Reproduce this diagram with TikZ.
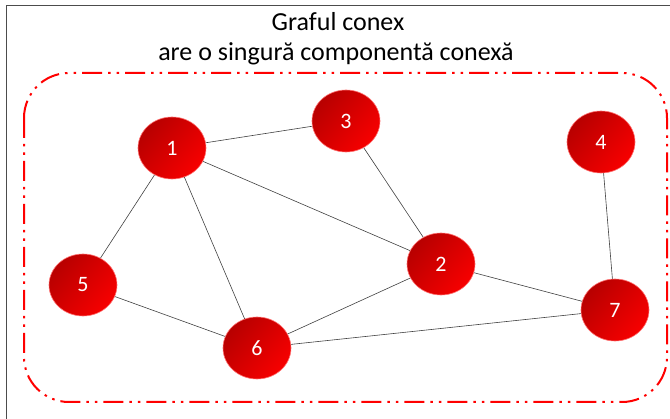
\documentclass[tikz,border=0pt]{standalone}
\usepackage{fontspec}
\setmainfont{Carlito}
\usetikzlibrary{shapes.geometric}
\begin{document}
\begin{tikzpicture}[x=1pt,y=-1pt,
  vert/.style={ellipse, minimum width=68pt, minimum height=62pt, inner sep=0pt,
    top color=red!72!black, bottom color=red!97!black, shading angle=50,
    draw=red!55!white, line width=0.6pt, text=white, font=\fontsize{22}{24}\selectfont},
  edge/.style={draw=black!75, line width=0.6pt},
  grp/.style={draw=red, line width=2pt, rounded corners=45pt,
    dash pattern=on 20pt off 6pt on 2.5pt off 6pt on 2.5pt off 6pt},
  ttl/.style={font=\fontsize{26}{28}\selectfont}
]
\useasboundingbox (0,0) rectangle (670,419);
\draw[black!70, line width=1pt] (6,6) rectangle (690,440);
\node[ttl] (t1) at (338,22) {Graful conex};
\node[ttl] (t2) at (336,54) {are o singură componentă conexă};
\draw[grp] (24,73) rectangle (667,402);
\node[vert] (n1) at (172,148) {1};
\node[vert] (n3) at (346,121) {3};
\node[vert] (n4) at (601,142) {4};
\node[vert] (n5) at (83,285) {5};
\node[vert] (n2) at (441,264) {2};
\node[vert] (n6) at (257,348) {6};
\node[vert] (n7) at (615,310) {7};
\path[edge] (n1) -- (n3);
\path[edge] (n1) -- (n2);
\path[edge] (n1) -- (n5);
\path[edge] (n1) -- (n6);
\path[edge] (n3) -- (n2);
\path[edge] (n2) -- (n6);
\path[edge] (n2) -- (n7);
\path[edge] (n5) -- (n6);
\path[edge] (n6) -- (n7);
\path[edge] (n4) -- (n7);
\end{tikzpicture}
\end{document}
